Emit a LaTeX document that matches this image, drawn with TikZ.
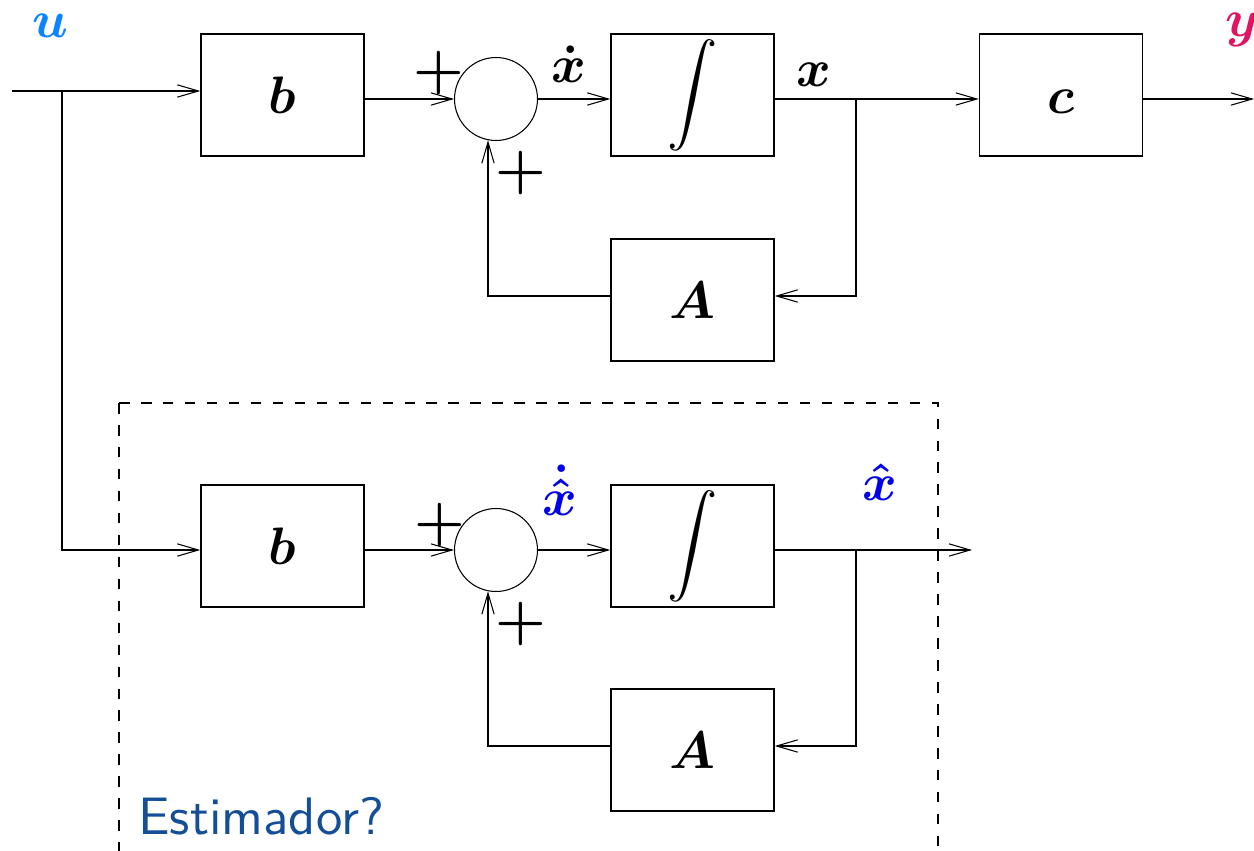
\documentclass[tikz,border=0pt]{standalone}
\usepackage{fix-cm}
\usepackage{amsmath}
\usepackage{graphicx}
\usetikzlibrary{arrows.meta}
\definecolor{ublue}{RGB}{10,132,255}
\definecolor{ycol}{RGB}{225,20,100}
\definecolor{hatblue}{RGB}{0,0,235}
\definecolor{estblue}{RGB}{20,78,150}
\tikzset{
 blk/.style={draw, line width=0.8pt, minimum width=3.26cm, minimum height=2.44cm, inner sep=0pt, font=\fontsize{30}{36}\selectfont},
 sumnode/.style={draw, circle, line width=0.6pt, minimum size=1.66cm, inner sep=0pt},
 conn/.style={line width=0.6pt, -{Straight Barb[length=12pt,width=7pt]}},
 lab/.style={inner sep=0pt, font=\fontsize{30}{36}\selectfont},
 plus/.style={inner sep=0pt, font=\fontsize{33}{38}\selectfont},
 dashbox/.style={line width=0.6pt, dash pattern=on 6pt off 6.5pt},
}
\newcommand{\bigint}{\scalebox{1.15}{$\displaystyle\int$}}
\begin{document}
\begin{tikzpicture}[x=0.02cm,y=-0.02cm]
\useasboundingbox (0,0) rectangle (1254,851);
% ---------- top row ----------
\node[blk] (b1) at (282.5,95) {$\boldsymbol{b}$};
\node[sumnode] (s1) at (496,99) {};
\node[blk] (i1) at (692.5,95) {\bigint};
\node[blk] (c1) at (1061,95) {$\boldsymbol{c}\vphantom{b}$};
\node[blk] (a1) at (692.5,300) {$\boldsymbol{A}$};
\coordinate (uin) at (12,91);
\coordinate (ujn) at (62,91);
\coordinate (yout) at (1254,99);
\coordinate (br1) at (856,99);
\coordinate (fb1) at (856,296);
\coordinate (cr1) at (488,296);
\draw[conn] (uin) -- (uin -| b1.west);
\draw[conn] (b1.east |- s1) -- (s1.west);
\draw[conn] (s1.east) -- (s1 -| i1.west);
\draw[conn] (i1.east |- s1) -- (s1 -| c1.west);
\draw[conn] (c1.east |- s1) -- (yout);
\draw[conn] (br1) -- (fb1) -- (fb1 -| a1.east);
\draw[conn] (fb1 -| a1.west) -- (cr1) -- (cr1 |- s1.-101);
% ---------- bottom row ----------
\node[blk] (b2) at (282.5,546) {$\boldsymbol{b}$};
\node[sumnode] (s2) at (496,550) {};
\node[blk] (i2) at (692.5,546) {\bigint};
\node[blk] (a2) at (692.5,750) {$\boldsymbol{A}$};
\coordinate (ujn2) at (62,550);
\coordinate (xout) at (972,550);
\coordinate (br2) at (856,550);
\coordinate (fb2) at (856,746);
\coordinate (cr2) at (488,746);
\draw[conn] (ujn) -- (ujn2) -- (ujn2 -| b2.west);
\draw[conn] (b2.east |- s2) -- (s2.west);
\draw[conn] (s2.east) -- (s2 -| i2.west);
\draw[conn] (i2.east |- s2) -- (xout);
\draw[conn] (br2) -- (fb2) -- (fb2 -| a2.east);
\draw[conn] (fb2 -| a2.west) -- (cr2) -- (cr2 |- s2.-101);
% ---------- labels ----------
\node[lab, text=ublue, anchor=base] (ulab) at (50,38) {$\boldsymbol{u}$};
\node[lab, text=ycol, anchor=base west] (ylab) at (1225,37) {$\boldsymbol{y}$};
\node[lab, anchor=base] (xdot) at (569,83) {$\boldsymbol{\dot{x}}$};
\node[lab, anchor=base] (xlab) at (814,87) {$\boldsymbol{x}$};
\node[lab, text=hatblue, anchor=base] (xhd) at (560,515) {$\boldsymbol{\dot{\hat{x}}}$};
\node[lab, text=hatblue, anchor=base] (xh) at (880,500) {$\boldsymbol{\hat{x}}$};
\node[plus] (p1a) at (439,73) {$\boldsymbol{+}$};
\node[plus] (p1b) at (521,173) {$\boldsymbol{+}$};
\node[plus] (p2a) at (440,525) {$\boldsymbol{+}$};
\node[plus] (p2b) at (521,624) {$\boldsymbol{+}$};
% ---------- estimator box ----------
\draw[dashbox] (119,403) -- (119,870);
\draw[dashbox] (119,403) -- (938,403) -- (938,870);
\node[anchor=base west, inner sep=0pt, text=estblue] (est) at (138,834) {\scalebox{3.0}{\sffamily\fontsize{10}{12}\selectfont Estimador?}};
\end{tikzpicture}
\end{document}
